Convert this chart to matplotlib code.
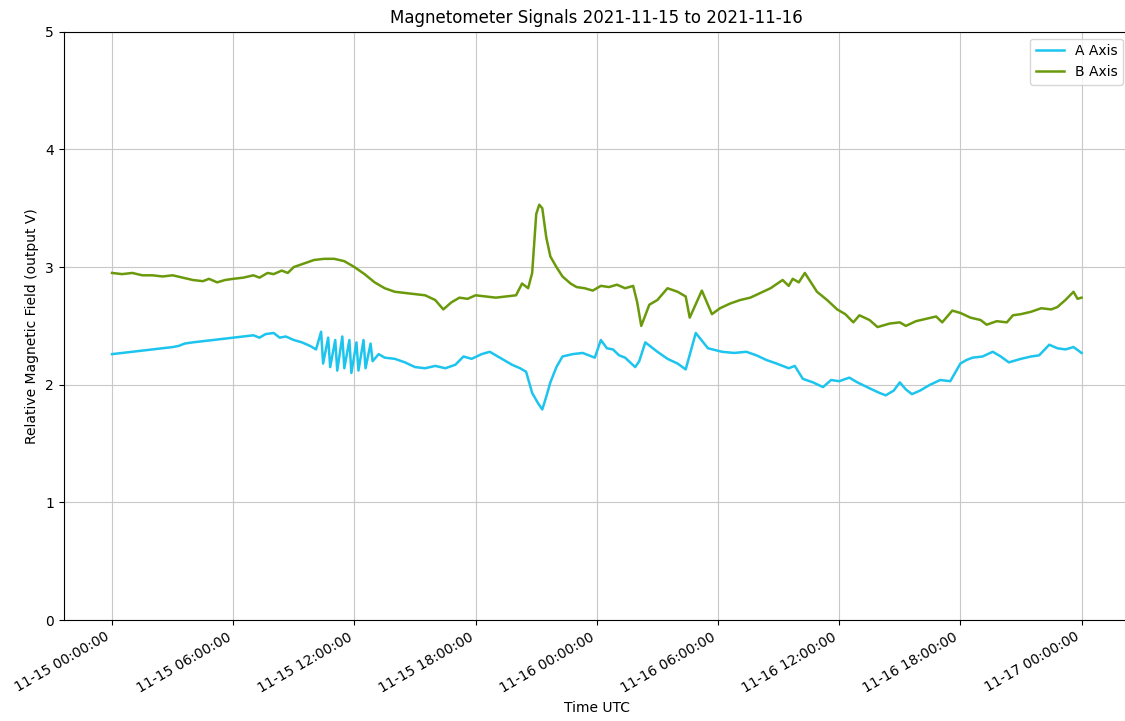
import pandas as pd
import matplotlib
matplotlib.use("Agg")
import matplotlib.pyplot as plt
import matplotlib.dates as mdates

# moc thoi gian bat dau
start = pd.Timestamp("2021-11-15 00:00:00")

# truc A: gio ke tu luc bat dau, gia tri (V)
a_hours = [0, 0.5, 1, 1.5, 2, 2.5, 3, 3.3, 3.6, 4, 4.5, 5, 5.5, 6, 6.5, 7, 7.3, 7.6, 8,
           8.3, 8.6, 9, 9.4, 9.8, 10.1, 10.35, 10.45, 10.7, 10.8, 11.05, 11.15, 11.4,
           11.5, 11.75, 11.85, 12.1, 12.2, 12.45, 12.55, 12.8, 12.9, 13.2, 13.5, 14,
           14.5, 15, 15.5, 16, 16.5, 17, 17.4, 17.8, 18.3, 18.7, 19.3, 19.8, 20.2, 20.5,
           20.8, 21.1, 21.3, 21.5, 21.7, 22.0, 22.3, 22.8, 23.3, 23.9, 24.2, 24.5, 24.8,
           25.1, 25.4, 25.9, 26.1, 26.4, 27, 27.5, 28, 28.4, 28.9, 29.5, 30.2, 30.8,
           31.4, 31.9, 32.4, 32.9, 33.5, 33.8, 34.2, 34.7, 35.2, 35.6, 36, 36.5, 36.9,
           37.5, 38, 38.3, 38.7, 39, 39.3, 39.6, 40, 40.5, 41, 41.5, 42, 42.3, 42.6,
           43.1, 43.6, 44, 44.4, 45, 45.5, 45.9, 46.4, 46.8, 47.2, 47.6, 48]
a_vals = [2.26, 2.27, 2.28, 2.29, 2.30, 2.31, 2.32, 2.33, 2.35, 2.36, 2.37, 2.38, 2.39,
          2.40, 2.41, 2.42, 2.40, 2.43, 2.44, 2.40, 2.41, 2.38, 2.36, 2.33, 2.30, 2.45,
          2.18, 2.40, 2.15, 2.38, 2.12, 2.41, 2.14, 2.38, 2.10, 2.36, 2.12, 2.38, 2.14,
          2.35, 2.20, 2.26, 2.23, 2.22, 2.19, 2.15, 2.14, 2.16, 2.14, 2.17, 2.24, 2.22,
          2.26, 2.28, 2.22, 2.17, 2.14, 2.11, 1.93, 1.84, 1.79, 1.90, 2.02, 2.15, 2.24,
          2.26, 2.27, 2.23, 2.38, 2.31, 2.30, 2.25, 2.23, 2.15, 2.20, 2.36, 2.28, 2.22,
          2.18, 2.13, 2.44, 2.31, 2.28, 2.27, 2.28, 2.25, 2.21, 2.18, 2.14, 2.16, 2.05,
          2.02, 1.98, 2.04, 2.03, 2.06, 2.02, 1.97, 1.93, 1.91, 1.95, 2.02, 1.96, 1.92,
          1.95, 2.00, 2.04, 2.03, 2.18, 2.21, 2.23, 2.24, 2.28, 2.24, 2.19, 2.22, 2.24,
          2.25, 2.34, 2.31, 2.30, 2.32, 2.27]

# truc B
b_hours = [0, 0.5, 1, 1.5, 2, 2.5, 3, 3.5, 4, 4.5, 4.8, 5.2, 5.6, 6, 6.5, 7, 7.3, 7.7, 8,
           8.4, 8.7, 9, 9.5, 10, 10.5, 11, 11.5, 12, 12.5, 13, 13.5, 14, 14.5, 15, 15.5,
           16, 16.4, 16.8, 17.2, 17.6, 18, 18.5, 19, 19.5, 20, 20.3, 20.6, 20.8, 21.0,
           21.15, 21.3, 21.5, 21.7, 22.0, 22.3, 22.7, 23, 23.4, 23.8, 24.2, 24.6, 25,
           25.4, 25.8, 26.0, 26.2, 26.6, 27, 27.5, 28, 28.4, 28.6, 29.2, 29.7, 30.1,
           30.6, 31.1, 31.6, 32.1, 32.6, 33.2, 33.5, 33.7, 34.0, 34.3, 34.9, 35.4, 35.9,
           36.3, 36.7, 37, 37.5, 37.9, 38.5, 39, 39.3, 39.8, 40.3, 40.8, 41.1, 41.6, 42,
           42.5, 43, 43.3, 43.8, 44.3, 44.6, 45, 45.5, 46, 46.5, 46.8, 47.2, 47.6, 47.8, 48]
b_vals = [2.95, 2.94, 2.95, 2.93, 2.93, 2.92, 2.93, 2.91, 2.89, 2.88, 2.90, 2.87, 2.89,
          2.90, 2.91, 2.93, 2.91, 2.95, 2.94, 2.97, 2.95, 3.00, 3.03, 3.06, 3.07, 3.07,
          3.05, 3.00, 2.94, 2.87, 2.82, 2.79, 2.78, 2.77, 2.76, 2.72, 2.64, 2.70, 2.74,
          2.73, 2.76, 2.75, 2.74, 2.75, 2.76, 2.86, 2.82, 2.95, 3.45, 3.53, 3.50, 3.25,
          3.09, 3.00, 2.92, 2.86, 2.83, 2.82, 2.80, 2.84, 2.83, 2.85, 2.82, 2.84, 2.70,
          2.50, 2.68, 2.72, 2.82, 2.79, 2.75, 2.57, 2.80, 2.60, 2.65, 2.69, 2.72, 2.74,
          2.78, 2.82, 2.89, 2.84, 2.90, 2.87, 2.95, 2.79, 2.72, 2.64, 2.60, 2.53, 2.59,
          2.55, 2.49, 2.52, 2.53, 2.50, 2.54, 2.56, 2.58, 2.53, 2.63, 2.61, 2.57, 2.55,
          2.51, 2.54, 2.53, 2.59, 2.60, 2.62, 2.65, 2.64, 2.66, 2.72, 2.79, 2.73, 2.74]

# doi gio sang thoi diem
a_time = start + pd.to_timedelta(a_hours, unit="h")
b_time = start + pd.to_timedelta(b_hours, unit="h")

fig = plt.figure(figsize=(11.25, 7.21), dpi=100)
ax = fig.add_axes([0.0565, 0.140, 0.948, 0.816])

ax.plot(a_time, a_vals, color="#1cc4ee", linewidth=1.8, label="A Axis")
ax.plot(b_time, b_vals, color="#6a9a0c", linewidth=1.8, label="B Axis")

ax.set_ylim(0, 5)
ax.set_yticks([0, 1, 2, 3, 4, 5])
ax.xaxis.set_major_locator(mdates.HourLocator(byhour=[0, 6, 12, 18]))
ax.xaxis.set_major_formatter(mdates.DateFormatter("%m-%d %H:%M:%S"))
for lbl in ax.get_xticklabels():
    lbl.set_rotation(30)
    lbl.set_ha("right")

# anh goc bi cat ben phai: khong thay vien phai
ax.spines["right"].set_visible(False)

ax.grid(True, color="#c8c8c8")
ax.set_title("Magnetometer Signals 2021-11-15 to 2021-11-16")
ax.set_xlabel("Time UTC")
ax.set_ylabel("Relative Magnetic Field (output V)")
ax.legend(loc="upper right")

plt.savefig("out.png")
